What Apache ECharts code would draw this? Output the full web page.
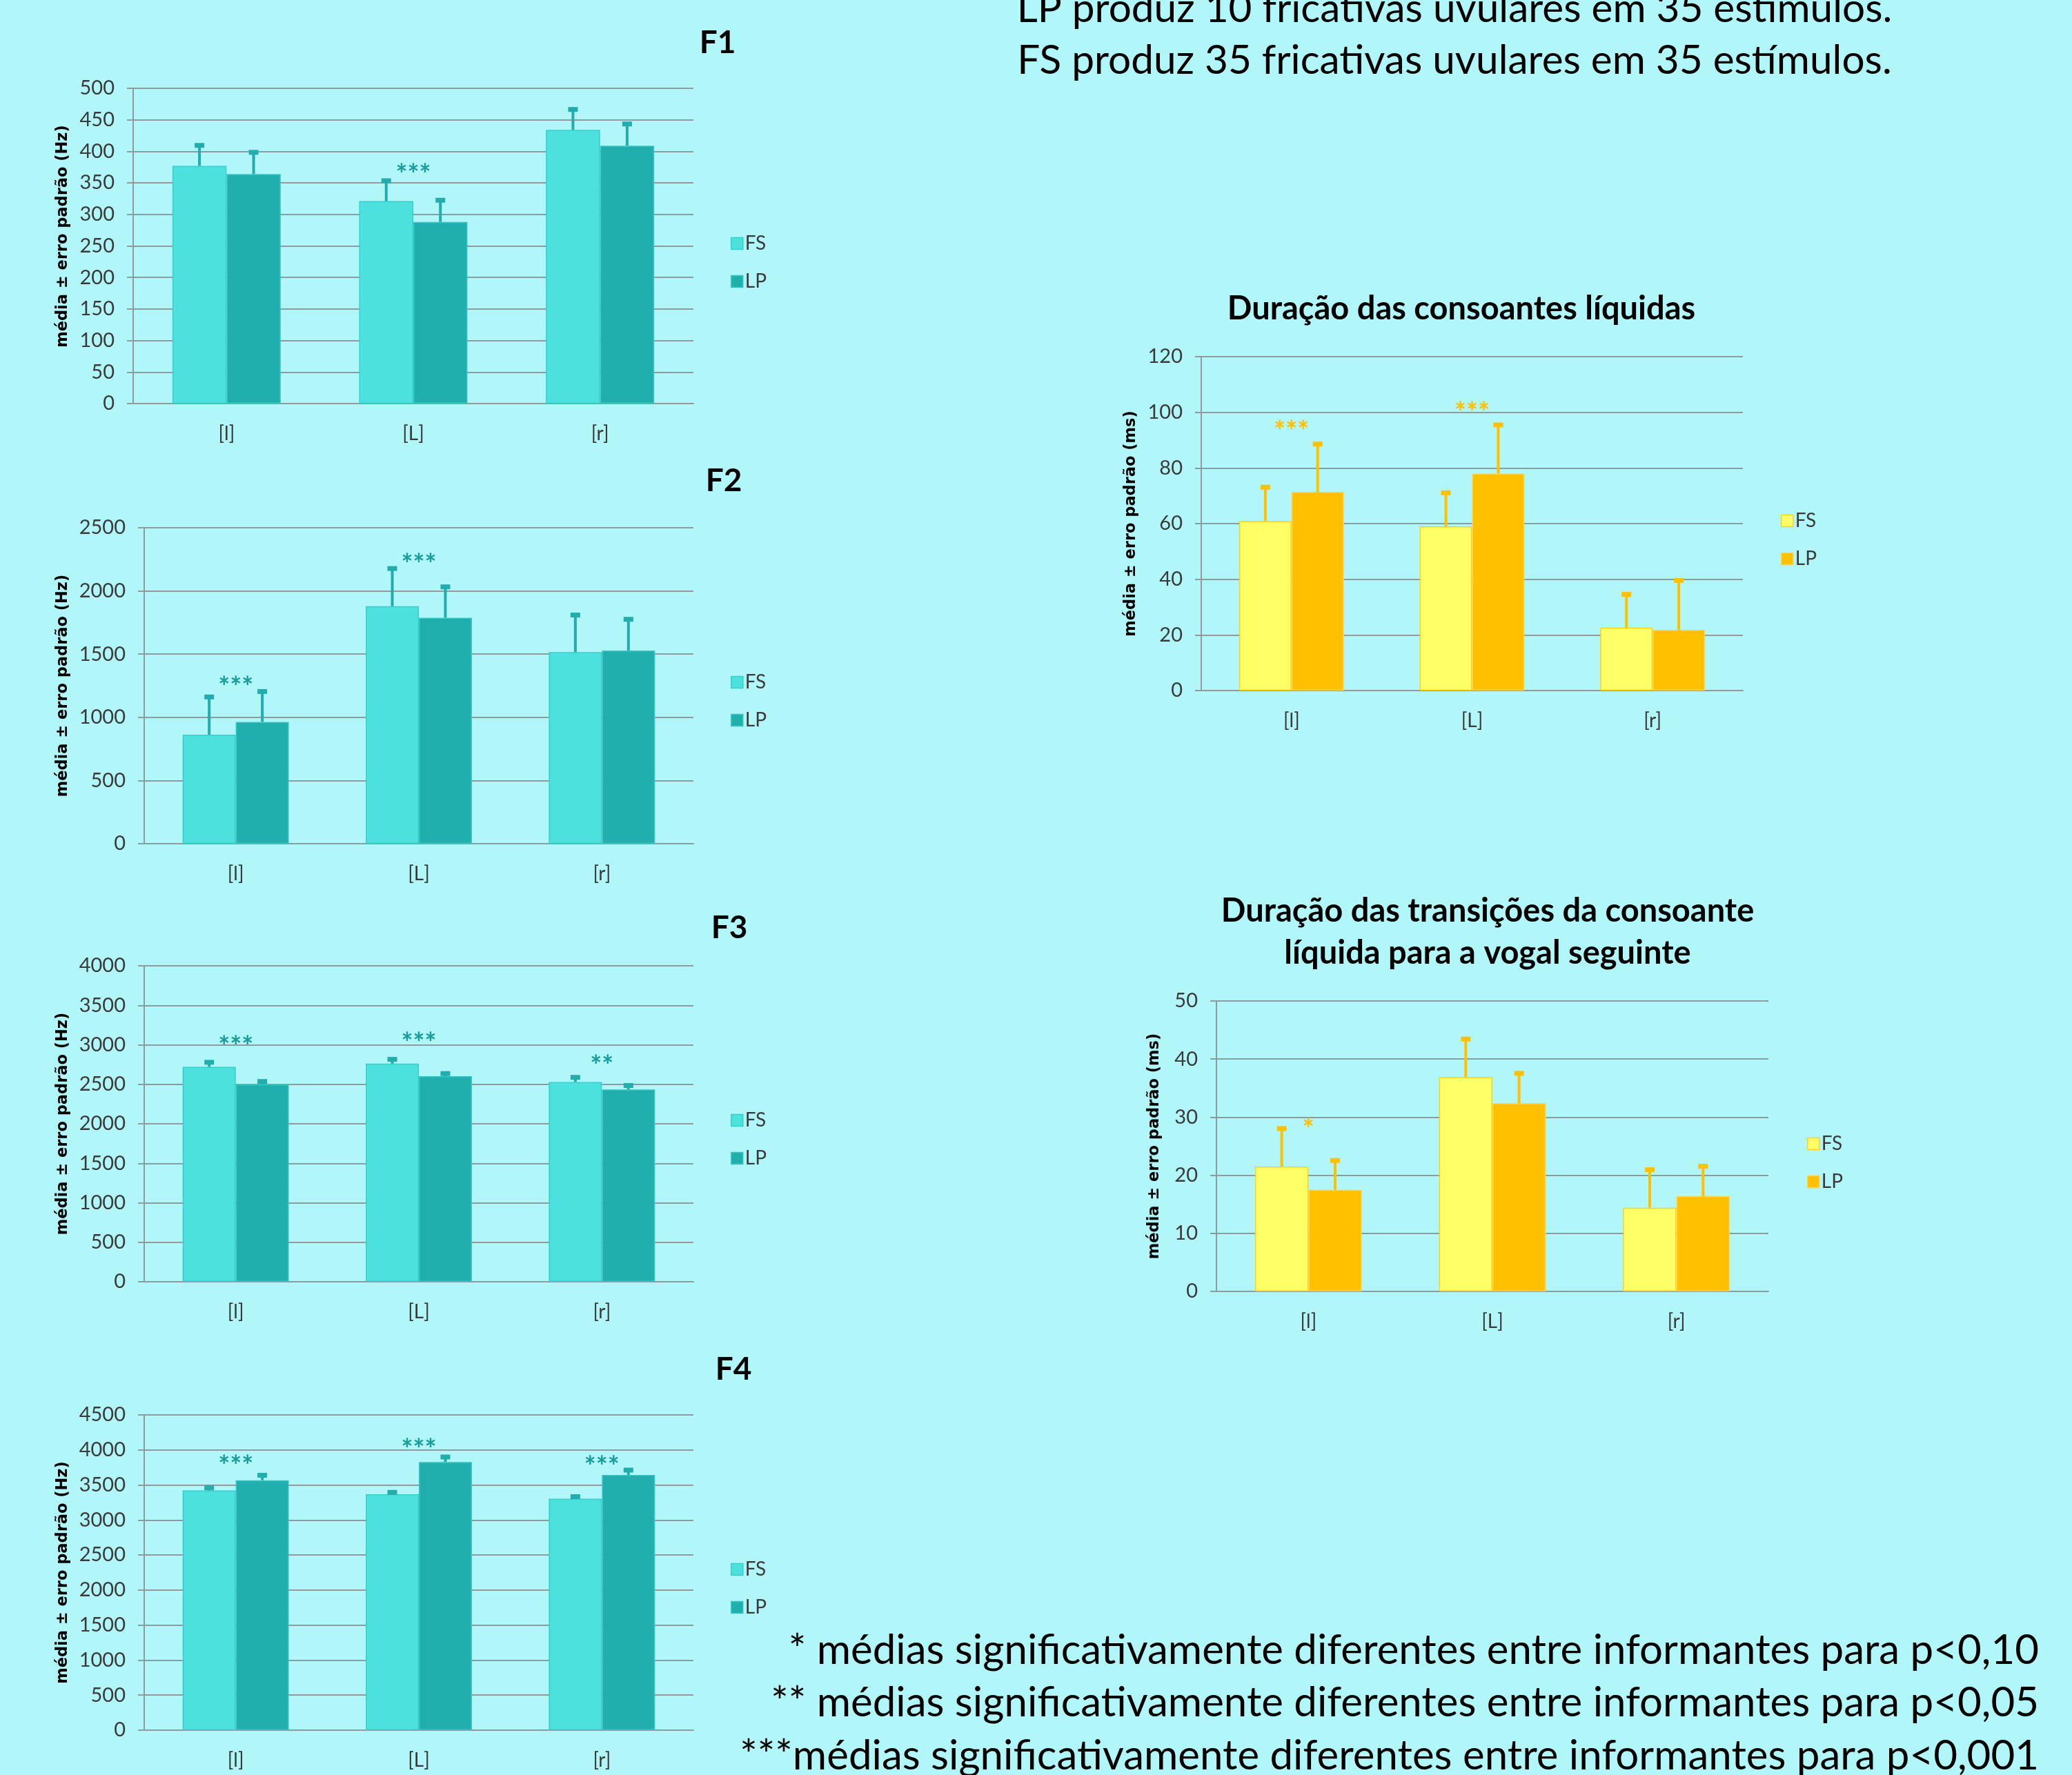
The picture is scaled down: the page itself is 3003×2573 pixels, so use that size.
<!DOCTYPE html>
<html>
<head>
<meta charset="utf-8">
<title>Formantes e duração das líquidas</title>
<script src="https://cdn.jsdelivr.net/npm/echarts@6/dist/echarts.min.js"></script>
<style>
html, body { margin: 0; padding: 0; background: #b1f6f9; }
#main { width: 3003px; height: 2573px; }
</style>
</head>
<body>
<div id="main"></div>
<script>
var categories = ['[l]', '[L]', '[r]'];

// F1
var f1FS = [377, 321, 434];
var f1FSErr = [33, 33, 33];
var f1LP = [364, 288, 409];
var f1LPErr = [35, 35, 35];
var f1Stars = ['', '***', ''];
var f1StarAt = [0, 372, 0];
var f1Ticks = [0, 500, 50];

// F2
var f2FS = [862, 1879, 1516];
var f2FSErr = [302, 301, 296];
var f2LP = [964, 1787, 1529];
var f2LPErr = [243, 248, 249];
var f2Stars = ['***', '***', ''];
var f2StarAt = [1281, 2256, 0];
var f2Ticks = [0, 2500, 500];

// F3
var f3FS = [2721, 2761, 2529];
var f3FSErr = [62, 59, 63];
var f3LP = [2500, 2603, 2434];
var f3LPErr = [40, 37, 55];
var f3Stars = ['***', '***', '**'];
var f3StarAt = [3044, 3088, 2805];
var f3Ticks = [0, 4000, 500];

// F4
var f4FS = [3423, 3367, 3303];
var f4FSErr = [40, 32, 35];
var f4LP = [3568, 3829, 3643];
var f4LPErr = [75, 75, 74];
var f4Stars = ['***', '***', '***'];
var f4StarAt = [3851, 4090, 3840];
var f4Ticks = [0, 4500, 500];

// duração das consoantes líquidas
var d1FS = [60.9, 59, 22.6];
var d1FSErr = [12.3, 12.2, 12.1];
var d1LP = [71.4, 78, 21.8];
var d1LPErr = [17.3, 17.6, 17.9];
var d1Stars = ['***', '***', ''];
var d1StarAt = [95.3, 102, 0];
var d1Ticks = [0, 120, 20];

// duração das transições
var d2FS = [21.5, 36.9, 14.4];
var d2FSErr = [6.6, 6.6, 6.6];
var d2LP = [17.5, 32.4, 16.4];
var d2LPErr = [5.1, 5.2, 5.2];
var d2Stars = ['*', '', ''];
var d2StarAt = [28.9, 0, 0];
var d2Ticks = [0, 50, 10];

var teal = { fs: '#4de1de', fsBorder: '#36cfcc', lp: '#21afae', lpBorder: '#38c6c4', err: '#22acab', star: '#1a9c98' };
var gold = { fs: '#ffff66', fsBorder: '#ffd21a', lp: '#ffc000', lpBorder: '#ffd24d', err: '#ffc000', star: '#ffc000' };
var gridColor = '#8c9c9e';
var labelColor = '#3a3a3a';
var barPct = 0.29;

var charts = [
    { fs: f1FS, fsErr: f1FSErr, lp: f1LP, lpErr: f1LPErr, stars: f1Stars, starAt: f1StarAt, ticks: f1Ticks, unit: 'Hz', pal: teal,
      left: 193, top: 128, width: 812, height: 457, nameGap: 90, namePad: [0, 0, 0, 28], legendLeft: 1054, legendTop: 334 },
    { fs: f2FS, fsErr: f2FSErr, lp: f2LP, lpErr: f2LPErr, stars: f2Stars, starAt: f2StarAt, ticks: f2Ticks, unit: 'Hz', pal: teal,
      left: 209, top: 765, width: 796, height: 458, nameGap: 106, legendLeft: 1054, legendTop: 970 },
    { fs: f3FS, fsErr: f3FSErr, lp: f3LP, lpErr: f3LPErr, stars: f3Stars, starAt: f3StarAt, ticks: f3Ticks, unit: 'Hz', pal: teal,
      left: 209, top: 1400, width: 796, height: 458, nameGap: 106, legendLeft: 1054, legendTop: 1605 },
    { fs: f4FS, fsErr: f4FSErr, lp: f4LP, lpErr: f4LPErr, stars: f4Stars, starAt: f4StarAt, ticks: f4Ticks, unit: 'Hz', pal: teal,
      left: 209, top: 2051, width: 796, height: 457, nameGap: 106, legendLeft: 1054, legendTop: 2256 },
    { fs: d1FS, fsErr: d1FSErr, lp: d1LP, lpErr: d1LPErr, stars: d1Stars, starAt: d1StarAt, ticks: d1Ticks, unit: 'ms', pal: gold,
      left: 1741, top: 517, width: 785, height: 484, nameGap: 90, legendLeft: 2576, legendTop: 736 },
    { fs: d2FS, fsErr: d2FSErr, lp: d2LP, lpErr: d2LPErr, stars: d2Stars, starAt: d2StarAt, ticks: d2Ticks, unit: 'ms', pal: gold,
      left: 1763, top: 1451, width: 800, height: 421, nameGap: 78, legendLeft: 2614, legendTop: 1639 }
];

// barra de erro (só para cima) com tampinha
function errRender(sign, color) {
    return function (params, api) {
        var cat = api.value(0);
        var base = api.coord([cat, api.value(1)]);
        var top = api.coord([cat, api.value(1) + api.value(2)]);
        var band = api.size([1, 0])[0];
        var x = base[0] + sign * band * barPct / 2;
        return {
            type: 'group',
            children: [
                { type: 'line', shape: { x1: x, y1: base[1], x2: x, y2: top[1] }, style: { stroke: color, lineWidth: 4 } },
                { type: 'rect', shape: { x: x - 7, y: top[1] - 3, width: 14, height: 7 }, style: { fill: color } }
            ]
        };
    };
}

function starRender(stars, color) {
    return function (params, api) {
        var p = api.coord([api.value(0), api.value(1)]);
        return {
            type: 'text',
            x: p[0], y: p[1] + 9,
            style: { text: stars[api.value(0)], font: 'bold 40px Lato', fill: color, align: 'center', verticalAlign: 'middle' }
        };
    };
}

var grids = [], xAxes = [], yAxes = [], series = [], legends = [];

charts.forEach(function (c, i) {
    grids.push({ left: c.left, top: c.top, width: c.width, height: c.height });
    xAxes.push({
        type: 'category', gridIndex: i, data: categories,
        axisLine: { lineStyle: { color: gridColor, width: 2 } },
        axisTick: { show: false },
        axisLabel: { margin: 30, fontSize: 28, fontFamily: 'Lato', color: labelColor }
    });
    yAxes.push({
        type: 'value', gridIndex: i, min: c.ticks[0], max: c.ticks[1], interval: c.ticks[2],
        name: 'média ± erro padrão (' + c.unit + ')',
        nameLocation: 'middle', nameRotate: 90, nameGap: c.nameGap,
        nameTextStyle: { fontFamily: 'DejaVu Sans', fontWeight: 'bold', fontSize: 22.5, color: '#000', padding: c.namePad || 0 },
        axisLine: { show: true, lineStyle: { color: gridColor, width: 2 } },
        axisTick: { show: true, length: 9, lineStyle: { color: gridColor, width: 2 } },
        axisLabel: { margin: 27, fontSize: 29, fontFamily: 'Lato', color: labelColor, formatter: function (v) { return String(v); } },
        splitLine: { lineStyle: { color: gridColor, width: 2 } }
    });
    series.push({
        name: 'FS', type: 'bar', xAxisIndex: i, yAxisIndex: i, barWidth: (barPct * 100) + '%', barGap: '0%',
        itemStyle: { color: c.pal.fs, borderColor: c.pal.fsBorder, borderWidth: 1.5 }, data: c.fs
    });
    series.push({
        name: 'LP', type: 'bar', xAxisIndex: i, yAxisIndex: i, barWidth: (barPct * 100) + '%', barGap: '0%',
        itemStyle: { color: c.pal.lp, borderColor: c.pal.lpBorder, borderWidth: 1.5 }, data: c.lp
    });
    series.push({
        name: 'FS erro', type: 'custom', xAxisIndex: i, yAxisIndex: i, z: 5, clip: false,
        renderItem: errRender(-1, c.pal.err),
        data: c.fs.map(function (v, k) { return [k, v, c.fsErr[k]]; })
    });
    series.push({
        name: 'LP erro', type: 'custom', xAxisIndex: i, yAxisIndex: i, z: 5, clip: false,
        renderItem: errRender(1, c.pal.err),
        data: c.lp.map(function (v, k) { return [k, v, c.lpErr[k]]; })
    });
    var starData = [];
    c.stars.forEach(function (s, k) { if (s) starData.push([k, c.starAt[k]]); });
    series.push({
        name: 'sig', type: 'custom', xAxisIndex: i, yAxisIndex: i, z: 6, clip: false,
        renderItem: starRender(c.stars, c.pal.star), data: starData
    });
    legends.push({
        orient: 'vertical', left: c.legendLeft, top: c.legendTop, itemWidth: 17, itemHeight: 17, itemGap: 27,
        icon: 'rect', selectedMode: false,
        textStyle: { fontSize: 28, fontFamily: 'Lato', color: labelColor, padding: [0, 0, 0, -2] },
        data: [
            { name: 'FS', itemStyle: { color: c.pal.fs, borderColor: c.pal.fsBorder, borderWidth: 1.5 } },
            { name: 'LP', itemStyle: { color: c.pal.lp, borderColor: c.pal.lpBorder, borderWidth: 1.5 } }
        ]
    });
});

function txt(s, x, y, font, align) {
    return { type: 'text', x: x, y: y, style: { text: s, font: font, fill: '#000', align: align || 'center', verticalAlign: 'middle' } };
}

var graphics = [
    txt('LP produz 10 fricativas uvulares em 35 estímulos.', 2108, 13, '58.5px Lato'),
    txt('FS produz 35 fricativas uvulares em 35 estímulos.', 2108, 88, '58.5px Lato'),
    txt('F1', 1040, 62, 'bold 46px Lato'),
    txt('F2', 1049, 697, 'bold 46px Lato'),
    txt('F3', 1057, 1345, 'bold 46px Lato'),
    txt('F4', 1063, 1985, 'bold 46px Lato'),
    txt('Duração das consoantes líquidas', 2118, 448, 'bold 47px Lato'),
    txt('Duração das transições da consoante', 2156, 1321, 'bold 47px Lato'),
    txt('líquida para a vogal seguinte', 2156, 1382, 'bold 47px Lato'),
    txt('* médias significativamente diferentes entre informantes para p<0,10', 2955, 2393, '60px Lato', 'right'),
    txt('** médias significativamente diferentes entre informantes para p<0,05', 2955, 2469, '60px Lato', 'right'),
    txt('***médias significativamente diferentes entre informantes para p<0,001', 2955, 2546, '60px Lato', 'right')
];

var chart = echarts.init(document.getElementById('main'));
chart.setOption({
    backgroundColor: '#b1f6f9',
    animation: false,
    grid: grids,
    xAxis: xAxes,
    yAxis: yAxes,
    legend: legends,
    series: series,
    graphic: graphics
});
</script>
</body>
</html>
